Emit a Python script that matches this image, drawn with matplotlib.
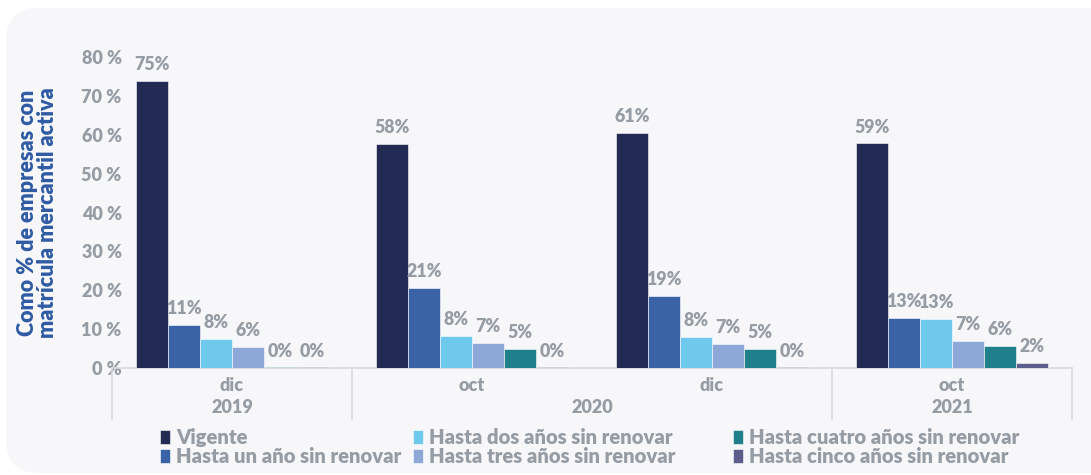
import numpy as np
import matplotlib.pyplot as plt
from matplotlib.patches import FancyBboxPatch
import matplotlib.transforms as mtransforms

plt.rcParams['font.family'] = ['Lato', 'DejaVu Sans']

months = ['dic', 'oct', 'dic', 'oct']
years = ['2019', '2020', '2021']
year_span = [(0, 1), (1, 3), (3, 4)]  # categories covered by each year

series = ['Vigente', 'Hasta un año sin renovar', 'Hasta dos años sin renovar',
          'Hasta tres años sin renovar', 'Hasta cuatro años sin renovar',
          'Hasta cinco años sin renovar']
colors = ['#232b55', '#3a62a7', '#6fc9ec', '#8da7d7', '#1f7f8a', '#5b5d8a']

# bar heights, labels as printed on the chart
vigente = [73.8, 57.6, 60.4, 57.8]
un_ano = [11.0, 20.6, 18.5, 12.9]
dos_anos = [7.5, 8.2, 8.0, 12.6]
tres_anos = [5.4, 6.4, 6.2, 6.9]
cuatro_anos = [0.15, 4.9, 4.9, 5.7]
cinco_anos = [0.15, 0.15, 0.15, 1.3]
values = [vigente, un_ano, dos_anos, tres_anos, cuatro_anos, cinco_anos]

labels = [['75%', '58%', '61%', '59%'],
          ['11%', '21%', '19%', '13%'],
          ['8%', '8%', '8%', '13%'],
          ['6%', '7%', '7%', '7%'],
          ['0%', '5%', '5%', '6%'],
          ['0%', '0%', '0%', '2%']]

grey = '#959ca4'
wt = 'heavy'

fig = plt.figure(figsize=(10.91, 4.75), dpi=100)
fig.patch.set_facecolor('white')
card = FancyBboxPatch((6 / 1091, 2 / 475), 1.2, 465 / 475,
                      boxstyle='round,pad=0,rounding_size=0.03',
                      transform=fig.transFigure, facecolor='#f7f7fa',
                      edgecolor='none', zorder=-5, mutation_aspect=1091 / 475)
fig.patches.append(card)

ax = fig.add_axes([112 / 1091, 107 / 475, 960 / 1091, 311 / 475])
ax.set_facecolor('none')
ax.set_zorder(2)

x = np.arange(len(months))
w = 0.8 / len(series)
bars = []
for i, (vals, c) in enumerate(zip(values, colors)):
    pos = x - 0.4 + w * (i + 0.5)
    b = ax.bar(pos, vals, width=w, color=c, label=series[i], zorder=3,
               edgecolor='white', linewidth=0.4)
    bars.append(b)
    for p, v, lab in zip(pos, vals, labels[i]):
        ax.text(p, v + 2.0, lab, ha='center', va='bottom', color=grey,
                fontsize=12.8, fontweight=wt)

ax.set_xlim(-0.5, 3.5)
ax.set_ylim(0, 80)
ax.set_yticks(np.arange(0, 81, 10))
ax.set_yticklabels([f'{t} %' for t in range(0, 81, 10)])
ax.tick_params(axis='y', length=0, labelsize=13, labelcolor=grey, pad=-7)
for lab in ax.get_yticklabels():
    lab.set_fontweight(wt)
ax.set_xticks([])
for s in ['top', 'right', 'left']:
    ax.spines[s].set_visible(False)
ax.spines['bottom'].set_color('#d9d9de')
ax.spines['bottom'].set_linewidth(1.2)

ax.set_ylabel('Como % de empresas con\nmatrícula mercantil activa',
              color='#2f5ba3', fontsize=15.5, fontweight=wt, labelpad=17,
              linespacing=0.92)

trans = mtransforms.blended_transform_factory(ax.transData, ax.transAxes)
for i, m in enumerate(months):
    ax.text(x[i], -0.03, m, transform=trans, ha='center', va='top',
            color=grey, fontsize=13, fontweight=wt)
for yr, (a, b) in zip(years, year_span):
    ax.text((a + b) / 2 - 0.5, -0.1, yr, transform=trans, ha='center',
            va='top', color=grey, fontsize=13, fontweight=wt)
for b in [0, 1, 3, 4]:
    ax.plot([b - 0.5, b - 0.5], [0, -0.165], transform=trans, color='#d9d9de',
            lw=1.2, clip_on=False)

# legend in three columns placed like the original
col_x = [160, 413, 733]
for k, x0 in enumerate(col_x):
    idx = [2 * k, 2 * k + 1]
    leg = fig.legend([bars[j] for j in idx], [series[j] for j in idx],
                     loc='center left', bbox_to_anchor=(x0 / 1091, 28 / 475),
                     frameon=False, borderpad=0, borderaxespad=0,
                     handlelength=0.5, handleheight=0.7, handletextpad=0.3,
                     labelspacing=0.02, fontsize=14.6)
    for t in leg.get_texts():
        t.set_color(grey)
        t.set_fontweight(wt)

fig.savefig('out.png', dpi=100, facecolor='white')
